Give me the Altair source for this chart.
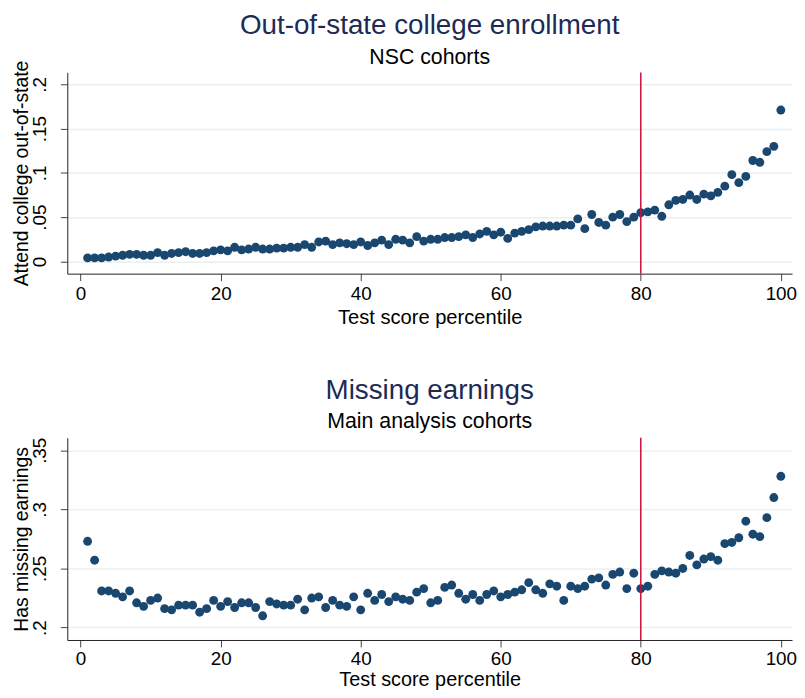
import altair as alt
import pandas as pd

pct = list(range(1, 101))

out_of_state = [
    0.004, 0.004, 0.004, 0.005, 0.006, 0.007, 0.008, 0.008, 0.007, 0.007,
    0.010, 0.007, 0.009, 0.010, 0.011, 0.009, 0.009, 0.010, 0.012, 0.013,
    0.012, 0.016, 0.013, 0.014, 0.016, 0.014, 0.014, 0.015, 0.015, 0.016,
    0.016, 0.019, 0.016, 0.022, 0.023, 0.019, 0.021, 0.020, 0.019, 0.022,
    0.018, 0.021, 0.024, 0.019, 0.025, 0.024, 0.021, 0.028, 0.023, 0.025,
    0.025, 0.027, 0.027, 0.028, 0.030, 0.027, 0.031, 0.034, 0.030, 0.033,
    0.026, 0.032, 0.034, 0.036, 0.039, 0.040, 0.040, 0.040, 0.041, 0.041,
    0.048, 0.037, 0.053, 0.044, 0.041, 0.050, 0.053, 0.045, 0.050, 0.055,
    0.056, 0.058, 0.051, 0.064, 0.069, 0.070, 0.075, 0.070, 0.076, 0.074,
    0.078, 0.085, 0.098, 0.089, 0.096, 0.114, 0.112, 0.124, 0.130, 0.171,
]

missing_earn = [
    0.273, 0.257, 0.231, 0.231, 0.229, 0.226, 0.231, 0.221, 0.218, 0.223,
    0.225, 0.216, 0.215, 0.219, 0.219, 0.219, 0.213, 0.216, 0.223, 0.218,
    0.222, 0.217, 0.221, 0.221, 0.217, 0.210, 0.222, 0.220, 0.219, 0.219,
    0.224, 0.215, 0.225, 0.226, 0.217, 0.223, 0.219, 0.218, 0.226, 0.215,
    0.229, 0.223, 0.228, 0.222, 0.226, 0.224, 0.223, 0.230, 0.233, 0.221,
    0.223, 0.234, 0.236, 0.229, 0.224, 0.228, 0.223, 0.228, 0.231, 0.226,
    0.228, 0.230, 0.232, 0.238, 0.232, 0.229, 0.237, 0.235, 0.223, 0.235,
    0.233, 0.235, 0.241, 0.242, 0.236, 0.245, 0.247, 0.233, 0.246, 0.233,
    0.235, 0.245, 0.248, 0.247, 0.246, 0.250, 0.261, 0.253, 0.258, 0.260,
    0.257, 0.271, 0.272, 0.276, 0.290, 0.279, 0.277, 0.293, 0.310, 0.328,
]

cutoff = [80]
x_ticks = [0, 20, 40, 60, 80, 100]
y1_ticks = [0, 0.05, 0.1, 0.15, 0.2]
y2_ticks = [0.2, 0.25, 0.3, 0.35]

FONT = "Liberation Sans"
NAVY = "#1a476f"
TITLE_COL = "#1c2b55"
RED = "#c8103c"

label_expr = "datum.value == 0 ? '0' : substring(format(datum.value, '~g'), 1)"


def panel(values, yticks, ydomain, ytitle, title, subtitle, height, offset, sub_pad,
          x_label_pad, x_title_pad, x_title_size):
    df = pd.DataFrame({"pct": pct, "value": values})
    xaxis = alt.Axis(
        values=x_ticks, title="Test score percentile", grid=False,
        tickSize=7, labelPadding=x_label_pad, titlePadding=x_title_pad,
        titleFontSize=x_title_size,
    )
    yaxis = alt.Axis(
        values=yticks, labelExpr=label_expr, title=ytitle, grid=True,
        labelAngle=270, labelAlign="center", labelBaseline="bottom",
        tickSize=7, labelPadding=10.7, titlePadding=-1,
    )
    pts = alt.Chart(df).mark_circle(size=80, color=NAVY, opacity=1).encode(
        x=alt.X("pct:Q", scale=alt.Scale(domain=[-1.9, 101.6], nice=False, zero=False), axis=xaxis),
        y=alt.Y("value:Q", scale=alt.Scale(domain=ydomain, nice=False, zero=False), axis=yaxis),
    )
    rule = alt.Chart(pd.DataFrame({"pct": cutoff})).mark_rule(color=RED, strokeWidth=1.5).encode(
        x=alt.X("pct:Q")
    )
    return alt.layer(pts, rule).properties(
        width=731, height=height,
        title=alt.TitleParams(
            text=title, subtitle=subtitle, fontSize=28, subtitleFontSize=21.5,
            font=FONT, subtitleFont=FONT, color=TITLE_COL, subtitleColor="#000000",
            fontWeight="normal", anchor="middle", frame="group", offset=offset,
            subtitlePadding=sub_pad,
        ),
    )


top = panel(out_of_state, y1_ticks, [-0.0138, 0.2135], "Attend college out-of-state",
            "Out-of-state college enrollment", "NSC cohorts", 203, -8.2, 7.5,
            4, 4, 20.3)
bottom = panel(missing_earn, y2_ticks, [0.1895, 0.3606], "Has missing earnings",
               "Missing earnings", "Main analysis cohorts", 204, 4.1, 6.5,
               2.5, 1, 20)

chart = alt.vconcat(top, bottom, spacing=49.5).properties(
    padding={"left": 3.8, "top": 0, "right": 0, "bottom": 0},
    background="white",
).configure_view(stroke=None).configure_axis(
    labelFont=FONT, titleFont=FONT, labelFontSize=19,
    labelColor="#000000", titleColor="#000000", titleFontWeight="normal",
    domainColor="#222222", tickColor="#444444", domainWidth=1, tickWidth=1,
    gridColor="#e9f0f2", gridWidth=1.5,
).configure_axisY(titleFontSize=19.5)

chart.save("out.html", embed_options={"renderer": "svg", "actions": False})
